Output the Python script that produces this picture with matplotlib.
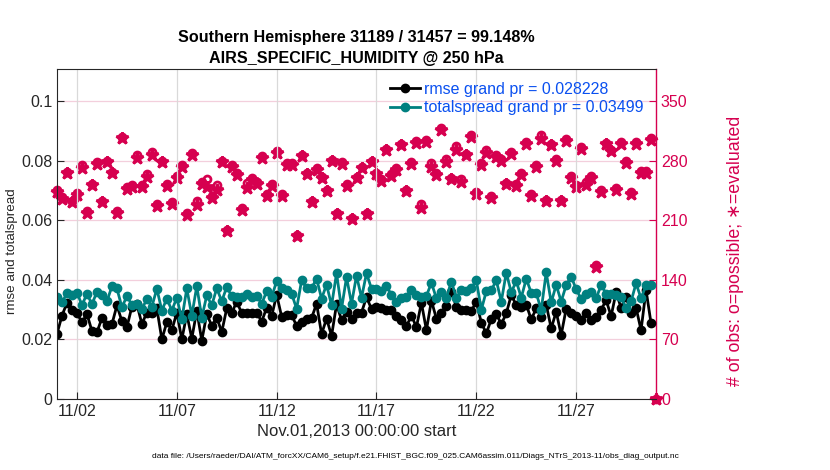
import numpy as np
import pandas as pd
import matplotlib
matplotlib.use("Agg")
import matplotlib.pyplot as plt

plt.rcParams['font.family'] = ['Liberation Sans', 'DejaVu Sans']

# ---------------- data ----------------
start = "2013-11-01 00:00"
n_bins = 121

rmse = [0.0219, 0.0280, 0.0323, 0.0298, 0.0288, 0.0257, 0.0285, 0.0228, 0.0224, 0.0272,
        0.0247, 0.0251, 0.0314, 0.0261, 0.0241, 0.0310, 0.0318, 0.0252, 0.0290, 0.0290,
        0.0304, 0.0200, 0.0258, 0.0231, 0.0290, 0.0200, 0.0285, 0.0203, 0.0296, 0.0196,
        0.0285, 0.0246, 0.0273, 0.0225, 0.0304, 0.0288, 0.0327, 0.0288, 0.0290, 0.0290,
        0.0290, 0.0260, 0.0306, 0.0278, 0.0350, 0.0276, 0.0282, 0.0281, 0.0246, 0.0257,
        0.0268, 0.0272, 0.0320, 0.0218, 0.0270, 0.0212, 0.0318, 0.0265, 0.0292, 0.0270,
        0.0290, 0.0290, 0.0342, 0.0302, 0.0308, 0.0305, 0.0298, 0.0298, 0.0278, 0.0265,
        0.0244, 0.0280, 0.0241, 0.0323, 0.0231, 0.0330, 0.0270, 0.0290, 0.0312, 0.0360,
        0.0310, 0.0298, 0.0300, 0.0296, 0.0326, 0.0256, 0.0220, 0.0268, 0.0285, 0.0252,
        0.0287, 0.0349, 0.0315, 0.0310, 0.0317, 0.0267, 0.0304, 0.0276, 0.0317, 0.0237,
        0.0293, 0.0215, 0.0303, 0.0287, 0.0280, 0.0265, 0.0287, 0.0265, 0.0276, 0.0299,
        0.0332, 0.0278, 0.0358, 0.0306, 0.0343, 0.0290, 0.0306, 0.0231, 0.0366, 0.0254,
        np.nan]

totalspread = [0.0341, 0.0324, 0.0355, 0.0350, 0.0357, 0.0315, 0.0353, 0.0318, 0.0360, 0.0350,
               0.0328, 0.0378, 0.0371, 0.0308, 0.0345, 0.0316, 0.0320, 0.0302, 0.0335, 0.0310,
               0.0370, 0.0297, 0.0337, 0.0297, 0.0340, 0.0267, 0.0371, 0.0280, 0.0379, 0.0273,
               0.0348, 0.0314, 0.0372, 0.0328, 0.0376, 0.0345, 0.0342, 0.0342, 0.0353, 0.0342,
               0.0345, 0.0320, 0.0361, 0.0342, 0.0396, 0.0372, 0.0365, 0.0353, 0.0303, 0.0398,
               0.0372, 0.0372, 0.0404, 0.0337, 0.0384, 0.0314, 0.0422, 0.0303, 0.0409, 0.0320,
               0.0414, 0.0340, 0.0422, 0.0370, 0.0369, 0.0362, 0.0378, 0.0350, 0.0327, 0.0338,
               0.0343, 0.0366, 0.0350, 0.0343, 0.0346, 0.0390, 0.0338, 0.0360, 0.0340, 0.0394,
               0.0340, 0.0365, 0.0362, 0.0372, 0.0398, 0.0299, 0.0362, 0.0365, 0.0398, 0.0327,
               0.0424, 0.0358, 0.0396, 0.0340, 0.0403, 0.0357, 0.0355, 0.0299, 0.0425, 0.0324,
               0.0383, 0.0327, 0.0382, 0.0411, 0.0368, 0.0336, 0.0352, 0.0360, 0.0338, 0.0382,
               0.0354, 0.0353, 0.0348, 0.0343, 0.0304, 0.0328, 0.0388, 0.0338, 0.0382, 0.0384,
               np.nan]

nobs_used = [243, 235, 265, 231, 240, 271, 219, 251, 276, 231,
             278, 265, 219, 306, 247, 249, 283, 249, 261, 286,
             227, 278, 250, 229, 260, 273, 216, 286, 228, 253,
             249, 236, 245, 278, 197, 273, 263, 222, 248, 257,
             253, 283, 239, 250, 289, 239, 275, 275, 191, 285,
             264, 231, 269, 259, 244, 279, 217, 276, 250, 211,
             259, 271, 217, 278, 264, 256, 292, 262, 269, 298,
             244, 276, 301, 224, 302, 273, 263, 316, 278, 258,
             293, 255, 286, 308, 241, 275, 289, 236, 284, 280,
             252, 288, 250, 263, 300, 239, 273, 305, 232, 298,
             280, 232, 303, 260, 249, 294, 251, 260, 155, 243,
             299, 291, 246, 300, 277, 241, 300, 266, 266, 304,
             0]

nobs_poss = [245, 237, 267, 233, 242, 275, 221, 253, 278, 233,
             280, 267, 221, 308, 249, 251, 286, 251, 264, 290,
             229, 280, 253, 231, 262, 275, 218, 289, 232, 255,
             258, 238, 251, 280, 199, 275, 265, 224, 254, 259,
             255, 285, 241, 252, 291, 241, 277, 277, 193, 287,
             266, 233, 271, 261, 246, 281, 219, 278, 252, 213,
             261, 273, 219, 280, 266, 258, 294, 264, 271, 300,
             246, 278, 303, 229, 304, 277, 265, 318, 282, 260,
             297, 258, 288, 310, 243, 277, 292, 238, 286, 282,
             254, 290, 252, 265, 302, 241, 275, 310, 234, 300,
             282, 234, 305, 262, 251, 296, 255, 262, 157, 245,
             301, 293, 248, 302, 279, 243, 302, 268, 268, 306,
             0]

xtick_days = ["2013-11-02", "2013-11-07", "2013-11-12", "2013-11-17", "2013-11-22", "2013-11-27"]
xtick_labels = ["11/02", "11/07", "11/12", "11/17", "11/22", "11/27"]
left_ticks = [0, 0.02, 0.04, 0.06, 0.08, 0.1]
left_ticklabels = ["0", "0.02", "0.04", "0.06", "0.08", "0.1"]
right_ticks = [0, 70, 140, 210, 280, 350]

rmse_grand = 0.028228
spread_grand = 0.03499
title_lines = ["Southern Hemisphere 31189 / 31457 = 99.148%", "AIRS_SPECIFIC_HUMIDITY @ 250 hPa"]
datafile = ("data file: /Users/raeder/DAI/ATM_forcXX/CAM6_setup/f.e21.FHIST_BGC.f09_025."
            "CAM6assim.011/Diags_NTrS_2013-11/obs_diag_output.nc")

# ---------------- plot ----------------
times = pd.date_range(start, periods=n_bins, freq="6h")
x = matplotlib.dates.date2num(times.to_pydatetime())
xt = matplotlib.dates.date2num(pd.to_datetime(xtick_days).to_pydatetime())

teal = "#008080"
mag = "#d6004f"
blue = "#0a50f0"
dark = "#262626"

fig = plt.figure(figsize=(8.3, 4.7), dpi=100)
ax = fig.add_axes([0.0687, 0.151, 0.7217, 0.702])
ax2 = ax.twinx()

ymax = 0.1107
ax.set_ylim(0, ymax)
ax2.set_ylim(0, ymax * 3500)
ax.set_xlim(x[0], x[-1])

ax.set_zorder(2)
ax.patch.set_visible(False)
ax2.set_zorder(1)

l1, = ax.plot(x, rmse, '-o', color='black', lw=2, ms=6, mfc='black', mec='black')
l2, = ax.plot(x, totalspread, '-o', color=teal, lw=2, ms=6, mfc=teal, mec=teal)

ax2.plot(x, nobs_poss, 'o', ls='none', color=mag, ms=5, mfc='none', mew=2.0, clip_on=False)
ax2.plot(x, nobs_used, '*', ls='none', color=mag, ms=9, mew=2.0, clip_on=False)

ax.set_xticks(xt)
ax.set_xticklabels(xtick_labels)
ax.set_yticks(left_ticks)
ax.set_yticklabels(left_ticklabels)
ax2.set_yticks(right_ticks)

ax.xaxis.grid(True, color='#d9d9d9', lw=0.9)
ax2.yaxis.grid(True, color='#f3cfdc', lw=0.9)
ax.set_axisbelow(True)

ax.tick_params(axis='both', direction='in', labelsize=11.5, length=5, width=0.8, colors=dark)
ax2.tick_params(axis='y', direction='in', labelsize=11.5, length=5, width=0.8,
                colors=mag, labelcolor=mag)
for s in ['left', 'bottom', 'top']:
    ax.spines[s].set_color(dark)
ax.spines['right'].set_visible(False)
ax2.spines['right'].set_color(mag)
ax2.spines['right'].set_linewidth(1.0)
for s in ['left', 'bottom', 'top']:
    ax2.spines[s].set_visible(False)

ax.set_xlabel("Nov.01,2013 00:00:00 start", fontsize=12, color=dark, labelpad=4)
fig.text(0.0150, 0.466, "rmse and totalspread", rotation=90, ha='center', va='center',
         fontsize=9.6, color=dark)
fig.text(0.886, 0.466, "# of obs: o=possible; \u2217=evaluated", rotation=90, ha='center',
         va='center', fontsize=12.8, color=mag)

fig.text(0.4295, 0.921, title_lines[0], ha='center', va='center', fontsize=11.6, fontweight='bold')
fig.text(0.4295, 0.876, title_lines[1], ha='center', va='center', fontsize=11.6, fontweight='bold')

leg = ax.legend([l1, l2], [f"rmse grand pr = {rmse_grand}", f"totalspread grand pr = {spread_grand}"],
                loc='upper right', bbox_to_anchor=(0.995, 0.99), frameon=False, fontsize=11.5,
                handlelength=1.9, handletextpad=0.25, labelspacing=0.2, borderaxespad=0.2)
for t in leg.get_texts():
    t.set_color(blue)

fig.text(0.5, 0.028, datafile, ha='center', va='center', fontsize=6, color='black')

fig.savefig("out.png", dpi=100)
